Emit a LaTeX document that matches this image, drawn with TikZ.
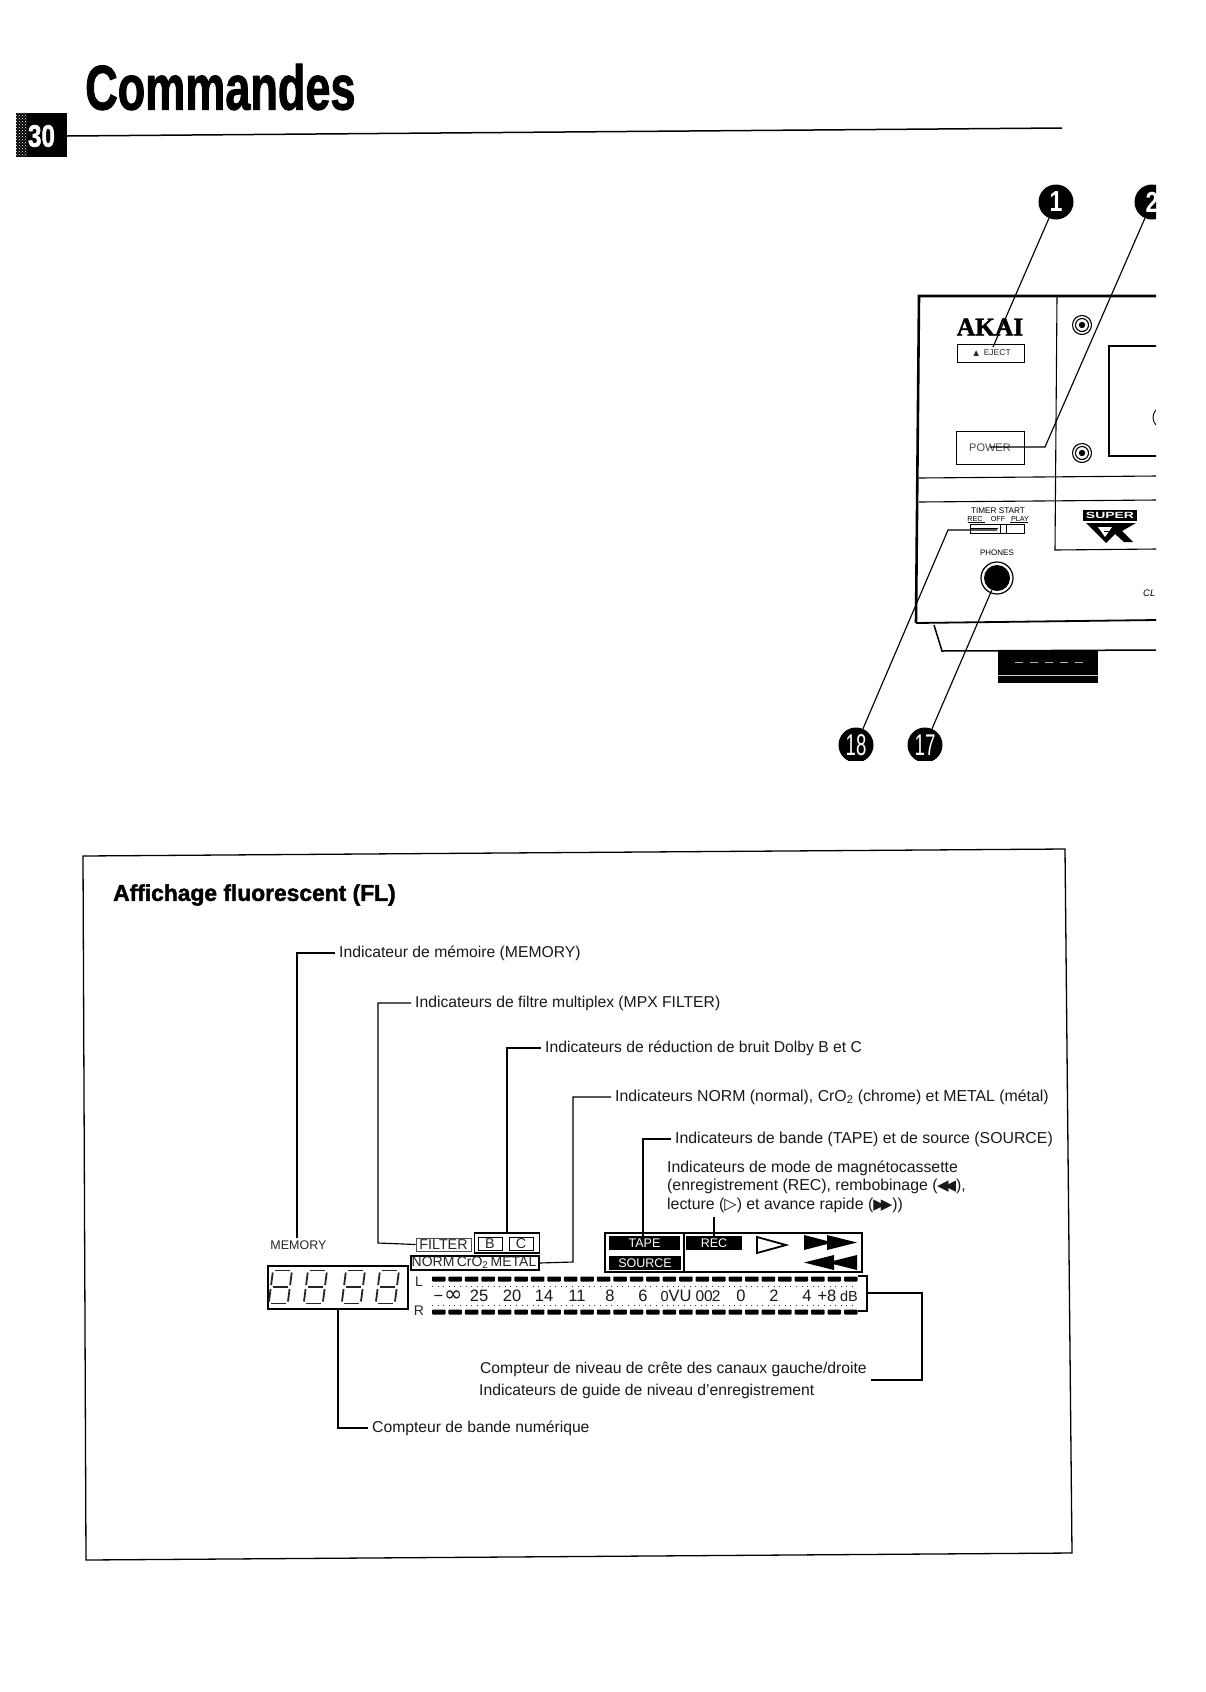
\documentclass[tikz,border=0pt]{standalone}
\usepackage{fontspec}
\setmainfont{Liberation Sans}
\newfontfamily\heavyf[BoldFeatures={FakeBold=1.8}]{Liberation Sans}
\newfontfamily\seriff[BoldFeatures={FakeBold=1.5}]{Liberation Serif}
\newfontfamily\symf{DejaVu Sans}
\usetikzlibrary{calc,patterns}
\newcommand{\fs}[1]{\fontsize{#1}{#1}\selectfont}
\newcommand{\sevenseg}[2]{%
  \begin{scope}[shift={(#1,#2)},xslant=0.13]
    \draw[segline] (2,0)--(17,0);
    \draw[segline] (2,16.5)--(17,16.5);
    \draw[segline] (2,33)--(17,33);
    \draw[segline] (0,2)--(0,14.5);
    \draw[segline] (19,2)--(19,14.5);
    \draw[segline] (0,18.5)--(0,31);
    \draw[segline] (19,18.5)--(19,31);
  \end{scope}}
\tikzset{
  x=1pt,y=-1pt,
  lead/.style={line width=1.15pt,black},
  frameline/.style={line width=1.3pt,black},
  devline/.style={line width=1.1pt,black},
  thickdev/.style={line width=2.6pt,black},
  segline/.style={line width=1.8pt,black!85},
  lbl/.style={anchor=west,inner ysep=0pt,inner xsep=4pt,font=\fs{15.7},text=black!90},
  mode/.style={anchor=west,inner sep=0pt,font=\fs{15.85},text=black!90},
  numdot/.style={circle,fill=black,text=white,minimum size=35pt,inner sep=0pt,font=\bfseries\fs{25}},
  tinytxt/.style={inner sep=0pt,font=\fs{7.2},text=black},
  box/.style={draw=black,line width=1pt,inner sep=0pt},
  boxtxt/.style={box,font=\fs{14.3},text=black!85},
  tag/.style={fill=black,text=white,inner sep=0pt,font=\fs{12.5}},
  scaletxt/.style={inner sep=0pt,font=\fs{16.5},text=black!90},
  bar/.style={fill=black,rounded corners=0.8pt},
  dotline/.style={line width=0.9pt,dash pattern=on 1pt off 4.6pt,black!80},
  solid tri/.style={fill=black,draw=none},
}
\begin{document}
\begin{tikzpicture}
\useasboundingbox (0,0) rectangle (1206,1692);
\fill[white] (0,0) rectangle (1206,1692);

% ---- heading
\node[anchor=west,inner sep=0pt] (title) at (85,87) {\scalebox{0.715}[1]{\heavyf\bfseries\fs{63}Commandes}};
\node[fill=black,minimum width=51pt,minimum height=44pt,inner sep=0pt] (pg) at (41.5,135) {};
\fill[pattern=crosshatch dots,pattern color=white] (16,113) rectangle (27,157);
\node[inner sep=0pt,text=white] (pgn) at (41.5,136) {\scalebox{0.78}[1]{\heavyf\bfseries\fs{31}30}};
\coordinate (rulend) at (1062,128);
\draw[line width=1.5pt] (pg.east) ++(0,1) -- (rulend);

% ---- device (cut off at the right)
\begin{scope}
\clip (800,150) rectangle (1156,760);
\draw[thickdev] (1157,296) -- (919,296) -- (916,623);
\draw[line width=1.8pt] (916,623) -- (1157,620);
\draw[devline] (1057,296) -- (1055,550) -- (1157,549);
\draw[devline] (919,478) -- (1157,476);
\draw[devline] (919,502) -- (1157,500);
\draw[devline] (1157,346) -- (1109,346) -- (1109,456) -- (1157,456);
\draw[line width=1.5pt] (934,625) -- (942,651) -- (1157,650);
\fill[black] (998,651) rectangle (1098,683);
\draw[white!70!black,line width=.7pt,dash pattern=on 8pt off 7pt] (1015,662) -- (1090,662);
\draw[white!80!black,line width=.8pt] (998,675) -- (1098,675);
\draw[line width=.9pt] (1156,410) .. controls (1152,414) and (1152,421) .. (1156,425);
% screws
\foreach \sy in {325,453}{
  \draw[line width=1.1pt] (1082,\sy) circle (9.5pt);
  \draw[line width=1.1pt] (1082,\sy) circle (6.5pt);
  \fill (1082,\sy) circle (3.2pt);
}
% badge
\node[anchor=center,inner sep=0pt,text=black] (akai) at (990,327) {\seriff\bfseries\fs{25.5}AKAI};
\node[box,minimum width=67pt,minimum height=18pt] (eject) at (990.5,353) {};
\node[inner sep=0pt,font=\fs{8.5},text=black!85] (ejt) at (992,353) {{\symf\fs{7.5}▲}\ \ EJECT};
\node[box,minimum width=68pt,minimum height=33pt] (power) at (990,447.5) {};
\node[anchor=west,inner sep=0pt,font=\fs{11},text=black!70] (powt) at (969,448) {POWER};
\node[tinytxt,font=\fs{8.2}] (timer) at (998,511) {TIMER START};
\node[tinytxt] (trec) at (975,519) {REC};
\node[tinytxt] (toff) at (998,519) {OFF};
\node[tinytxt] (tplay) at (1020,519) {PLAY};
\draw[line width=.7pt] (968,522) -- (985,522) (1010,522) -- (1028,522);
\draw[line width=1pt] (970,524) rectangle (1024,533);
\draw[line width=1pt] (1000,524) -- (1000,533) (1006,524) -- (1006,533);
\draw[line width=1pt] (970,528) -- (998,528);
\node[tinytxt,font=\fs{8}] (phones) at (997,553) {PHONES};
\draw[line width=1.2pt] (997,578) circle (16pt);
\node[circle,fill=black,minimum size=26pt,inner sep=0pt] (jack) at (997,578) {};
% Super GX logo
\node[fill=black,text=white,inner sep=0pt,minimum width=54pt,minimum height=11pt] (super) at (1110,515.5) {\scalebox{1.55}[1]{\bfseries\fs{9}SUPER}};
\path[solid tri] (1086,523) -- (1136,523) -- (1122,531) -- (1133,542) -- (1124,542) -- (1115,534) -- (1106,543) -- cycle;
\path[fill=white] (1098,527) -- (1112,527) -- (1105,537) -- cycle;
\draw[line width=1pt] (1104,531) -- (1110,531);
\node[inner sep=0pt,font=\itshape\fs{9.5},anchor=west] (cl) at (1143,593) {CL};
% callouts
\node[numdot] (n1) at (1056,202) {\scalebox{.8}[1]{\fs{29}1}};
\node[numdot] (n2) at (1152,202) {\scalebox{.8}[1]{\fs{29}2}};
\node[numdot,font=\fs{30}] (n18) at (856,745) {\scalebox{.62}[1]{18}};
\node[numdot,font=\fs{30}] (n17) at (925,745) {\scalebox{.62}[1]{17}};
\coordinate (ej) at (993,347);
\coordinate (pwa) at (1045,447);
\coordinate (pwb) at (990,447);
\coordinate (tma) at (948,530);
\coordinate (tmb) at (997,530);
\draw[lead] (n1) -- (ej);
\draw[lead] (n2) -- (pwa) -- (pwb);
\draw[lead] (n18) -- (tma) -- (tmb);
\draw[lead] (n17) -- ($(jack)!13pt!(n17)$);
\draw[white,line width=1.2pt] (jack) -- ($(jack)!13pt!(n17)$);
\end{scope}

% ---- panel frame
\draw[frameline] (83,856) -- (1065,849) -- (1072,1553) -- (86,1560) -- cycle;
\node[anchor=west,inner sep=0pt] (hdr) at (113,895) {\heavyf\bfseries\fs{22.8}Affichage fluorescent (FL)};

% ---- labels
\node[lbl] (l1) at (335,953) {Indicateur de mémoire (MEMORY)};
\node[lbl] (l2) at (411,1003) {Indicateurs de filtre multiplex (MPX FILTER)};
\node[lbl] (l3) at (541,1048) {Indicateurs de réduction de bruit Dolby B et C};
\node[lbl,font=\fs{15.85}] (l4) at (611,1097) {Indicateurs NORM (normal), CrO\textsubscript{2} (chrome) et METAL (métal)};
\node[lbl,font=\fs{15.85}] (l5) at (671,1139) {Indicateurs de bande (TAPE) et de source (SOURCE)};
\node[mode] (m1) at (667,1168) {Indicateurs de mode de magnétocassette};
\node[mode] (m2) at (667,1186) {(enregistrement (REC), rembobinage ({\symf\fs{15}\kern-.5pt◀\kern-4pt◀}),};
\node[mode] (m3) at (667,1205) {lecture ({\symf\fs{16}▷}) et avance rapide ({\symf\fs{15}▶\kern-4pt▶}))};
\node[lbl,anchor=east] (l6) at (871,1369) {Compteur de niveau de crête des canaux gauche/droite};
\node[mode,font=\fs{15.7}] (l7) at (479,1391) {Indicateurs de guide de niveau d’enregistrement};
\node[lbl] (l8) at (368,1428) {Compteur de bande numérique};

% ---- display
\node[inner sep=0pt,font=\fs{12.5},text=black!85] (mem) at (298.5,1245) {MEMORY};
\node[box,line width=1.3pt,minimum width=140pt,minimum height=43pt] (disp) at (338,1287.5) {};
\sevenseg{273}{1270.5}\sevenseg{308}{1270.5}\sevenseg{346}{1270.5}\sevenseg{380}{1270.5}

\node[boxtxt,minimum width=55pt,minimum height=13pt,draw=black!70,line width=.8pt] (filt) at (443.5,1244.5) {FILTER};
\node[box,line width=1.5pt,minimum width=65pt,minimum height=20pt] (bc) at (507,1243) {};
\node[boxtxt,minimum width=24pt,minimum height=13pt] (bb) at (490,1243.5) {B};
\node[boxtxt,minimum width=24pt,minimum height=13pt] (cc) at (521,1243.5) {C};
\node[boxtxt,line width=1.3pt,minimum width=128pt,minimum height=14pt,font=\fs{14}] (norm) at (475,1263) {\kern-2pt NORM\,CrO\textsubscript{2}\,METAL};

\node[box,line width=1.5pt,minimum width=257pt,minimum height=39pt] (panel) at (733.5,1252.5) {};
\draw[line width=1.2pt] (684,1233) -- (684,1272);
\node[tag,minimum width=71pt,minimum height=14pt] (tape) at (644.5,1243) {TAPE};
\node[tag,minimum width=72pt,minimum height=14pt] (source) at (645,1263) {SOURCE};
\node[tag,minimum width=56pt,minimum height=14pt] (rec) at (714,1243) {REC};
\draw[line width=1.8pt] (757,1237) -- (757,1253) -- (786,1245) -- cycle;
\path[solid tri] (804,1235) -- (833,1242.5) -- (804,1250) -- cycle;
\path[solid tri] (827,1235) -- (857,1242.5) -- (827,1250) -- cycle;
\path[solid tri] (834,1255) -- (804,1262.5) -- (834,1270) -- cycle;
\path[solid tri] (857,1255) -- (827,1262.5) -- (857,1270) -- cycle;

% ---- level meter
\node[inner sep=0pt,font=\fs{14},text=black!85] (chl) at (419,1282) {L};
\node[inner sep=0pt,font=\fs{14},text=black!85] (chr) at (419,1311) {R};
\foreach \i in {0,...,25}{
  \fill[bar] ({432+16.48*\i},1276.5) rectangle ++(13.5,5);
  \fill[bar] ({432+16.48*\i},1309.5) rectangle ++(13.5,5);
}
\draw[dotline] (432,1286) -- (857,1286);
\draw[dotline] (432,1305) -- (857,1305);
\foreach \nm/\sx/\st in {a/479/25,b/512/20,c/544/14,d/577/11,e/610/8,f/643/6,g/741/0,h/774/2,i/807/4}{
  \node[scaletxt] (s\nm) at (\sx,1296) {\st};
}
\node[scaletxt] (sinf) at (448,1296) {−\kern1pt{\symf\fs{22}∞}};
\node[scaletxt] (svu) at (676,1296) {{\fs{14.5}0}VU};
\node[scaletxt] (scd) at (708,1296) {\fs{15.5}00\kern-1pt2};
\node[scaletxt] (spl) at (827,1296) {+8};
\node[scaletxt,font=\fs{14.5}] (sdb) at (849,1296) {dB};
\draw[line width=1.2pt] (858,1276) -- (867,1276) -- (867,1311) -- (858,1311);

% ---- connectors
\coordinate (memend) at (297,1238);
\coordinate (brk) at (867,1293);
\coordinate (recup) at (714,1217);
\draw[lead] (l1.west) -| (memend);
\draw[lead] (l2.west) -| (378,1243) -- (filt.west);
\draw[lead] (l3.west) -| (bc.north);
\draw[lead] (l4.west) -| (573,1262) -- (norm.east);
\draw[lead] (l5.west) -| (tape.north -| 643,0);
\draw[lead] (recup) -- (rec.north -| recup);
\draw[lead] (brk) -| (922,1380) -- (l6.east |- 0,1380);
\draw[lead] (l8.west) -| (disp.south);
\end{tikzpicture}
\end{document}
